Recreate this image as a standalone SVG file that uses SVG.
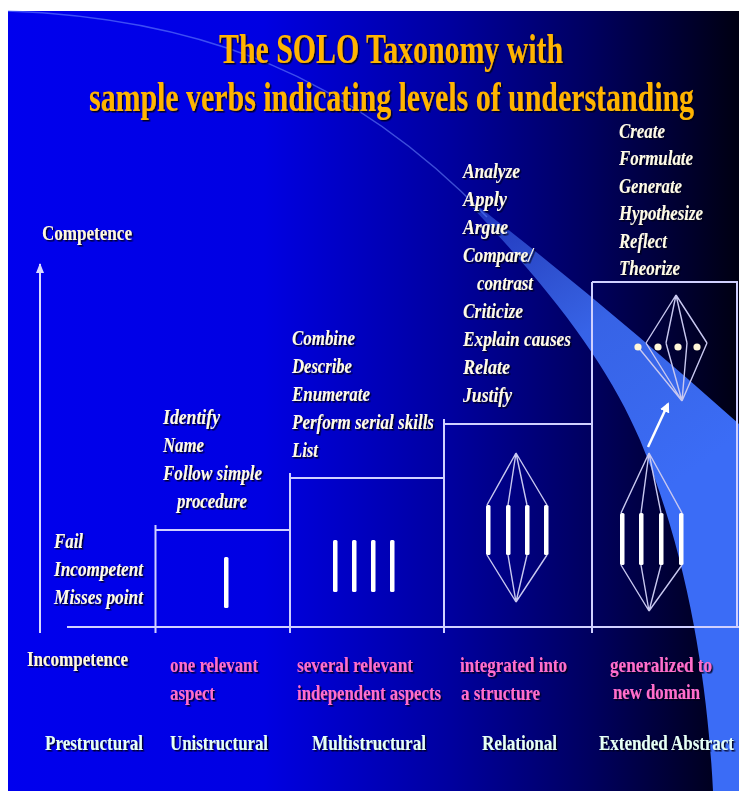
<svg xmlns="http://www.w3.org/2000/svg" width="739" height="791" viewBox="0 0 739 791">
<defs>
<linearGradient id="bg" x1="0" y1="0" x2="1" y2="0">
<stop offset="0" stop-color="#0000ee"/>
<stop offset="0.35" stop-color="#0000e2"/>
<stop offset="0.6" stop-color="#0000a0"/>
<stop offset="0.8" stop-color="#00005e"/>
<stop offset="1" stop-color="#000012"/>
</linearGradient>
<linearGradient id="band" gradientUnits="userSpaceOnUse" x1="470" y1="200" x2="680" y2="480">
<stop offset="0" stop-color="#4a7cff" stop-opacity="0.4"/>
<stop offset="0.5" stop-color="#3d6ef6" stop-opacity="0.9"/>
<stop offset="1" stop-color="#3b6cf6" stop-opacity="1"/>
</linearGradient>
<filter id="sh" x="-10%" y="-30%" width="120%" height="160%">
<feDropShadow dx="1.5" dy="1.5" stdDeviation="0.6" flood-color="#000018" flood-opacity="0.9"/>
</filter>
<marker id="ah" viewBox="0 0 10 10" refX="8" refY="5" markerWidth="4" markerHeight="4" orient="auto">
<path d="M0,0 L10,5 L0,10 Z" fill="#ffffff"/>
</marker>
<marker id="axh" viewBox="0 0 10 10" refX="9" refY="5" markerWidth="5" markerHeight="5" orient="auto">
<path d="M0,1 L10,5 L0,9 Z" fill="#d8d8ff"/>
</marker>
</defs>
<style>
.t{font-family:"Liberation Serif","Times New Roman",serif;font-weight:bold;filter:url(#sh)}
.title{font-size:43px;fill:#ffb400}
.v{font-size:21px;font-style:italic;fill:#fffbe8}
.ax{font-size:21px;fill:#fff8dc}
.pk{font-size:21px;fill:#ff6ecc}
.lb{font-size:21px;fill:#e6fff6}
.ol{stroke:#d0d0ff;stroke-width:2;fill:none}
.sl{stroke:#c8c8f0;stroke-width:1.4;fill:none}
.bar{fill:#ffffff}
.dot{fill:#fff6d8}
</style>
<g id="background">
<rect x="8" y="11" width="731" height="780" fill="url(#bg)"/>
<path d="M8,11 C200,18 350,75 487,217" stroke="#6f8cff" stroke-width="1.5" fill="none" opacity="0.55"/>
<path d="M470,200 Q600,300 739,424 L739,791 L713,791 C708,690 690,560 640,440 C610,370 560,300 470,205 Z" fill="url(#band)"/>
</g>
<g id="title">
<text class="t title" x="219" y="63" textLength="344" lengthAdjust="spacingAndGlyphs">The SOLO Taxonomy with</text>
<text class="t title" x="89" y="111" textLength="605" lengthAdjust="spacingAndGlyphs">sample verbs indicating levels of understanding</text>
</g>
<g id="connectors">
<line x1="40" y1="633" x2="40" y2="264" stroke="#d8d8ff" stroke-width="2" marker-end="url(#axh)"/>
<line x1="67" y1="627" x2="739" y2="627" class="ol"/>
<line x1="648" y1="447" x2="668" y2="404" stroke="#ffffff" stroke-width="2.5" marker-end="url(#ah)"/>
</g>
<g id="axis-labels">
<text class="t ax" x="42" y="240" textLength="90" lengthAdjust="spacingAndGlyphs">Competence</text>
<text class="t ax" x="27" y="666" textLength="101" lengthAdjust="spacingAndGlyphs">Incompetence</text>
</g>
<g id="prestructural">
<text class="t v" x="54" y="548" textLength="29" lengthAdjust="spacingAndGlyphs">Fail</text>
<text class="t v" x="54" y="576" textLength="89" lengthAdjust="spacingAndGlyphs">Incompetent</text>
<text class="t v" x="54" y="604" textLength="89" lengthAdjust="spacingAndGlyphs">Misses point</text>
<text class="t lb" x="45" y="750" textLength="98" lengthAdjust="spacingAndGlyphs">Prestructural</text>
</g>
<g id="unistructural">
<path class="ol" d="M155.5,525 V633 M155.5,530 H290"/>
<rect class="bar" x="224" y="557" width="4.5" height="51" rx="1.5"/>
<text class="t v" x="163" y="424" textLength="57" lengthAdjust="spacingAndGlyphs">Identify</text>
<text class="t v" x="163" y="452" textLength="41" lengthAdjust="spacingAndGlyphs">Name</text>
<text class="t v" x="163" y="480" textLength="99" lengthAdjust="spacingAndGlyphs">Follow simple</text>
<text class="t v" x="177" y="508" textLength="70" lengthAdjust="spacingAndGlyphs">procedure</text>
<text class="t pk" x="170" y="672" textLength="88" lengthAdjust="spacingAndGlyphs">one relevant</text>
<text class="t pk" x="170" y="700" textLength="45" lengthAdjust="spacingAndGlyphs">aspect</text>
<text class="t lb" x="170" y="750" textLength="98" lengthAdjust="spacingAndGlyphs">Unistructural</text>
</g>
<g id="multistructural">
<path class="ol" d="M290,473 V633 M290,478 H444"/>
<rect class="bar" x="333" y="540" width="4.5" height="52" rx="1.5"/>
<rect class="bar" x="352" y="540" width="4.5" height="52" rx="1.5"/>
<rect class="bar" x="371" y="540" width="4.5" height="52" rx="1.5"/>
<rect class="bar" x="390" y="540" width="4.5" height="52" rx="1.5"/>
<text class="t v" x="292" y="345" textLength="63" lengthAdjust="spacingAndGlyphs">Combine</text>
<text class="t v" x="292" y="373" textLength="60" lengthAdjust="spacingAndGlyphs">Describe</text>
<text class="t v" x="292" y="401" textLength="78" lengthAdjust="spacingAndGlyphs">Enumerate</text>
<text class="t v" x="292" y="429" textLength="142" lengthAdjust="spacingAndGlyphs">Perform serial skills</text>
<text class="t v" x="292" y="457" textLength="26" lengthAdjust="spacingAndGlyphs">List</text>
<text class="t pk" x="297" y="672" textLength="116" lengthAdjust="spacingAndGlyphs">several relevant</text>
<text class="t pk" x="297" y="700" textLength="144" lengthAdjust="spacingAndGlyphs">independent aspects</text>
<text class="t lb" x="312" y="750" textLength="114" lengthAdjust="spacingAndGlyphs">Multistructural</text>
</g>
<g id="relational">
<path class="ol" d="M444,419 V633 M444,424 H592"/>
<path class="sl" d="M516,453 L487,505 M516,453 L508,505 M516,453 L527,505 M516,453 L547,505 M487,555 L516,602 M508,555 L516,602 M527,555 L516,602 M547,555 L516,602"/>
<rect class="bar" x="486" y="505" width="4.5" height="50" rx="1.5"/>
<rect class="bar" x="506" y="505" width="4.5" height="50" rx="1.5"/>
<rect class="bar" x="525" y="505" width="4.5" height="50" rx="1.5"/>
<rect class="bar" x="544" y="505" width="4.5" height="50" rx="1.5"/>
<text class="t v" x="463" y="178" textLength="57" lengthAdjust="spacingAndGlyphs">Analyze</text>
<text class="t v" x="463" y="206" textLength="44" lengthAdjust="spacingAndGlyphs">Apply</text>
<text class="t v" x="463" y="234" textLength="45" lengthAdjust="spacingAndGlyphs">Argue</text>
<text class="t v" x="463" y="262" textLength="70" lengthAdjust="spacingAndGlyphs">Compare/</text>
<text class="t v" x="477" y="290" textLength="56" lengthAdjust="spacingAndGlyphs">contrast</text>
<text class="t v" x="463" y="318" textLength="60" lengthAdjust="spacingAndGlyphs">Criticize</text>
<text class="t v" x="463" y="346" textLength="108" lengthAdjust="spacingAndGlyphs">Explain causes</text>
<text class="t v" x="463" y="374" textLength="47" lengthAdjust="spacingAndGlyphs">Relate</text>
<text class="t v" x="463" y="402" textLength="49" lengthAdjust="spacingAndGlyphs">Justify</text>
<text class="t pk" x="460" y="672" textLength="107" lengthAdjust="spacingAndGlyphs">integrated into</text>
<text class="t pk" x="461" y="700" textLength="79" lengthAdjust="spacingAndGlyphs">a structure</text>
<text class="t lb" x="482" y="750" textLength="75" lengthAdjust="spacingAndGlyphs">Relational</text>
</g>
<g id="extended-abstract">
<path class="ol" d="M592,282 V633 M592,282 H737 V627"/>
<path class="sl" d="M649,453 L621,513 M649,453 L641,513 M649,453 L661,513 M649,453 L682,513 M621,565 L649,611 M641,565 L649,611 M661,565 L649,611 M682,565 L649,611"/>
<rect class="bar" x="620" y="513" width="4.5" height="52" rx="1.5"/>
<rect class="bar" x="639" y="513" width="4.5" height="52" rx="1.5"/>
<rect class="bar" x="659" y="513" width="4.5" height="52" rx="1.5"/>
<rect class="bar" x="679" y="513" width="4.5" height="52" rx="1.5"/>
<path class="sl" d="M676,295 L646,343 M676,295 L666,343 M676,295 L687,343 M676,295 L707,343 M646,343 L682,401 M666,343 L682,401 M687,343 L682,401 M707,343 L682,401 M638,347 L682,401"/>
<circle class="dot" cx="638" cy="347" r="3.6"/>
<circle class="dot" cx="658" cy="347" r="3.6"/>
<circle class="dot" cx="678" cy="347" r="3.6"/>
<circle class="dot" cx="697" cy="347" r="3.6"/>
<text class="t v" x="619" y="137.5" textLength="46" lengthAdjust="spacingAndGlyphs">Create</text>
<text class="t v" x="619" y="165" textLength="74" lengthAdjust="spacingAndGlyphs">Formulate</text>
<text class="t v" x="619" y="192.5" textLength="63" lengthAdjust="spacingAndGlyphs">Generate</text>
<text class="t v" x="619" y="220" textLength="84" lengthAdjust="spacingAndGlyphs">Hypothesize</text>
<text class="t v" x="619" y="247.5" textLength="48" lengthAdjust="spacingAndGlyphs">Reflect</text>
<text class="t v" x="619" y="275" textLength="61" lengthAdjust="spacingAndGlyphs">Theorize</text>
<text class="t pk" x="610" y="672" textLength="102" lengthAdjust="spacingAndGlyphs">generalized to</text>
<text class="t pk" x="613" y="699" textLength="87" lengthAdjust="spacingAndGlyphs">new domain</text>
<text class="t lb" x="599" y="750" textLength="135" lengthAdjust="spacingAndGlyphs">Extended Abstract</text>
</g>
</svg>
